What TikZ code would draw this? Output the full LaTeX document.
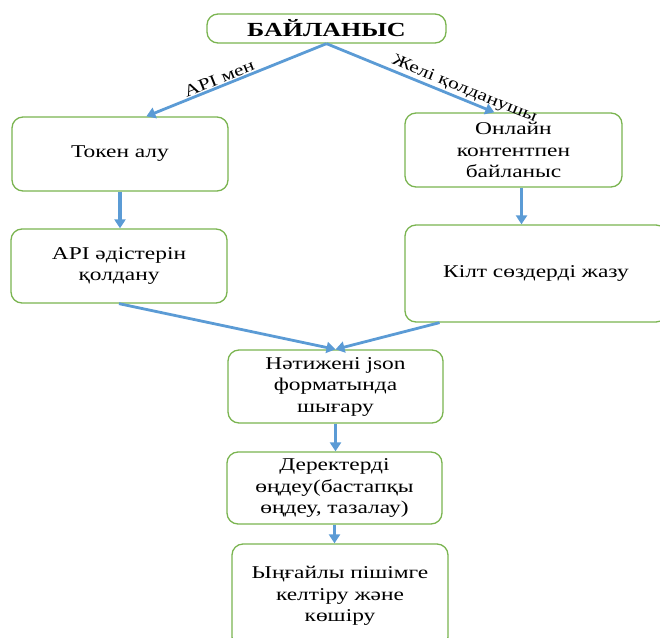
\documentclass[tikz,border=0pt]{standalone}
\usepackage{fontspec}
\setmainfont[FakeStretch=1.3]{Liberation Serif}
\usetikzlibrary{arrows.meta}
\definecolor{boxgreen}{RGB}{122,180,80}
\definecolor{arrblue}{RGB}{91,155,213}
\tikzset{
	box/.style={draw=boxgreen, line width=1.3pt, rounded corners=11pt, fill=white, align=center, inner sep=0pt, font=\fontsize{18}{21.5}\selectfont},
	arr/.style={draw=arrblue, line width=3.8pt, -{Triangle[width=11pt,length=9pt]}},
	lab/.style={font=\fontsize{16.5}{18}\selectfont, sloped, above, inner sep=1pt}
}
\begin{document}
\begin{tikzpicture}[x=1pt,y=-1pt,line join=round]
	\useasboundingbox (0,0) rectangle (660,637);
	\clip (0,0) rectangle (660,637);
	\node[box, minimum width=239pt, minimum height=29pt, font=\fontsize{20}{24}\selectfont\bfseries] (top) at (326.5,28.5) {БАЙЛАНЫС};
	\node[box, minimum width=216pt, minimum height=74pt] (tok) at (120,154) {Токен алу};
	\node[box, minimum width=216pt, minimum height=74pt] (api) at (119,266) {API әдістерін\\қолдану};
	\node[box, minimum width=217pt, minimum height=74pt] (onl) at (513.5,150) {Онлайн\\контентпен\\байланыс};
	\node[box, minimum width=262pt, minimum height=97pt] (kilt) at (536,273.5) {Кілт сөздерді жазу};
	\node[box, minimum width=215pt, minimum height=73pt] (res) at (335.5,386.5) {Нәтижені json\\форматында\\шығару};
	\node[box, minimum width=215pt, minimum height=72pt] (proc) at (334.5,488) {Деректерді\\өңдеу(бастапқы\\өңдеу, тазалау)};
	\node[box, minimum width=216pt, minimum height=104pt] (fmt) at (340,596) {Ыңғайлы пішімге\\келтіру және\\көшіру};
	% branches from the title
	\draw[arr, line width=2.8pt] (top.south) -- node[lab, pos=.58]{API мен} (tok.55);
	\draw[arr, line width=2.8pt] (top.south) -- node[lab, pos=.8]{Желі қолданушы} (onl.117);
	% straight down
	\foreach \a/\b in {tok/api,res/proc,proc/fmt}
	\draw[arr] (\a.south) -- (\a.south |- \b.north);
	\draw[arr] (onl.-78) -- (onl.-78 |- kilt.north);
	% joining
	\draw[arr, line width=2.8pt] (api.south) -- (res.north);
	\draw[arr, line width=2.8pt] (kilt.207) -- (res.north);
\end{tikzpicture}
\end{document}
